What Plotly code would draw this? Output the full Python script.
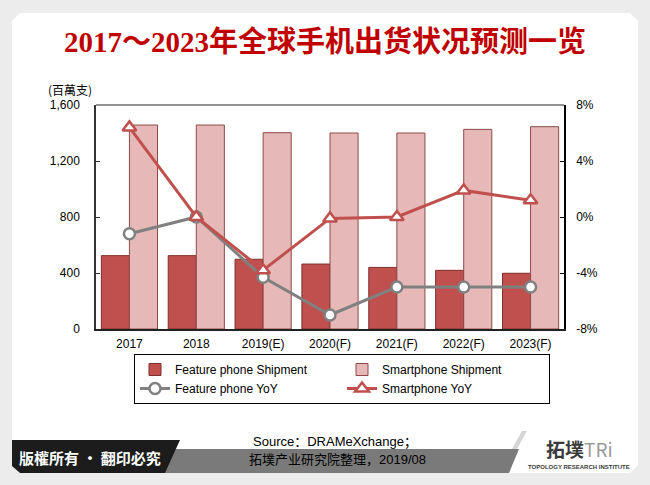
import plotly.graph_objects as go

W, H = 650, 485
L, R, T, B = 96, 86, 105, 156
PW, PH = W - L - R, H - T - B

categories = ["2017", "2018", "2019(E)", "2020(F)", "2021(F)", "2022(F)", "2023(F)"]
feature_shipment = [524, 524, 498, 464, 440, 419, 398]
smart_shipment = [1457, 1457, 1402, 1400, 1400, 1426, 1445]
feature_yoy = [-1.2, 0.0, -4.3, -7.0, -5.0, -5.0, -5.0]
smart_yoy = [6.4, 0.0, -3.8, -0.1, 0.0, 1.9, 1.2]

left_ticks = [0, 400, 800, 1200, 1600]
left_ticktext = ["0", "400", "800", "1,200", "1,600"]
right_ticks = [-8, -4, 0, 4, 8]
right_ticktext = ["-8%", "-4%", "0%", "4%", "8%"]

title_text = "2017～2023年全球手机出货状况预测一览"
unit_text = "(百萬支)"
source_lines = ["Source：DRAMeXchange；", "拓墣产业研究院整理，2019/08"]
copyright_text = "版權所有 · 翻印必究"


def px(x):
    return (x - L) / PW


def py(y):
    return (H - B - y) / PH


def path(points, close=True):
    s = "M " + " L ".join(f"{px(x):.5f},{py(y):.5f}" for x, y in points)
    return s + (" Z" if close else "")


def note(text, x, y, size, color="black", family="Liberation Sans, Noto Sans CJK SC"):
    return dict(text=text, x=px(x), y=py(y), xref="paper", yref="paper", showarrow=False,
                xanchor="center", yanchor="middle",
                font=dict(family=family, size=size, color=color))


fig = go.Figure()
fig.add_trace(go.Bar(x=categories, y=feature_shipment, name="Feature phone Shipment",
                     marker=dict(color="#c0504d", line=dict(color="#7f2f2d", width=1))))
fig.add_trace(go.Bar(x=categories, y=smart_shipment, name="Smartphone Shipment",
                     marker=dict(color="#e6b9b8", line=dict(color="#8c4a48", width=1))))
fig.add_trace(go.Scatter(x=categories, y=feature_yoy, name="Feature phone YoY", yaxis="y2",
                         mode="lines+markers", line=dict(color="#808080", width=3),
                         marker=dict(symbol="circle", size=11, color="white",
                                     line=dict(color="#808080", width=2.5))))
fig.add_trace(go.Scatter(x=categories, y=smart_yoy, name="Smartphone YoY", yaxis="y2",
                         mode="lines+markers", line=dict(color="#c0504d", width=3),
                         marker=dict(symbol="triangle-up", size=12, color="white",
                                     line=dict(color="#c0504d", width=2.5))))

card = [(20, 13), (630, 13), (638, 21), (638, 465), (630, 473), (20, 473), (12, 465), (12, 21)]
shapes = [
    dict(type="path", path=path(card), xref="paper", yref="paper", fillcolor="white",
         line=dict(width=0), layer="below"),
    dict(type="path", path=path([(160, 449), (519, 449), (509, 473), (160, 473)]),
         xref="paper", yref="paper", fillcolor="#7a7a7a", line=dict(width=0), layer="below"),
    dict(type="path", path=path([(522, 431), (527, 431), (517, 449), (512, 449)]),
         xref="paper", yref="paper", fillcolor="#d6d6d6", line=dict(width=0), layer="below"),
    dict(type="path", path=path([(12, 440), (180, 440), (165, 473), (20, 473), (12, 466)]),
         xref="paper", yref="paper", fillcolor="#1c1c1c", line=dict(width=0), layer="below"),
    dict(type="line", x0=0, x1=1, y0=1, y1=1, xref="paper", yref="paper",
         line=dict(color="#6f6f6f", width=1.5)),
]

annotations = [
    note(f"<b>{title_text}</b>", 325, 42, 29, "#c00000", "Liberation Serif, Noto Sans CJK SC"),
    note(unit_text, 70, 89, 12, "black", "Noto Sans CJK TC"),
    note(source_lines[0], 335, 442, 13),
    note(source_lines[1], 337, 459, 13),
    note(f"<b>{copyright_text}</b>", 90, 457, 15, "white", "Noto Sans CJK TC"),
    note("<b>拓墣</b><span style='color:#9a9a9a'>TRi</span>", 579, 448, 19, "#3a3a3a", "Noto Sans CJK SC"),
    note("<b>TOPOLOGY RESEARCH INSTITUTE</b>", 579, 467, 6, "#3a3a3a", "Liberation Sans"),
]

fig.update_layout(
    width=W, height=H,
    margin=dict(l=L, r=R, t=T, b=B, pad=0),
    paper_bgcolor="#ececec",
    plot_bgcolor="rgba(0,0,0,0)",
    barmode="group", bargap=0.16, bargroupgap=0,
    font=dict(family="Liberation Sans, Arial", size=12, color="black"),
    xaxis=dict(showline=True, linecolor="#222222", linewidth=1.5, ticks="outside", ticklen=3,
               tickcolor="rgba(0,0,0,0)", showgrid=False, tickfont=dict(size=12)),
    yaxis=dict(range=[0, 1600], tickvals=left_ticks, ticktext=left_ticktext, showgrid=False,
               zeroline=False, showline=True, linecolor="#333333", linewidth=1.5,
               ticks="inside", ticklen=4, tickcolor="#333333", ticklabelstandoff=12),
    yaxis2=dict(range=[-8, 8], tickvals=right_ticks, ticktext=right_ticktext, overlaying="y",
                side="right", showgrid=False, zeroline=False, showline=True, linecolor="black",
                linewidth=1.5, ticks="inside", ticklen=4, tickcolor="black", ticklabelstandoff=8),
    legend=dict(orientation="h", x=px(134), y=py(354), xanchor="left", yanchor="top",
                bgcolor="white", bordercolor="black", borderwidth=1,
                entrywidth=162, entrywidthmode="pixels", tracegroupgap=0,
                font=dict(family="Liberation Sans", size=12, color="black")),
    shapes=shapes,
    annotations=annotations,
)

fig.write_html("out.html")
